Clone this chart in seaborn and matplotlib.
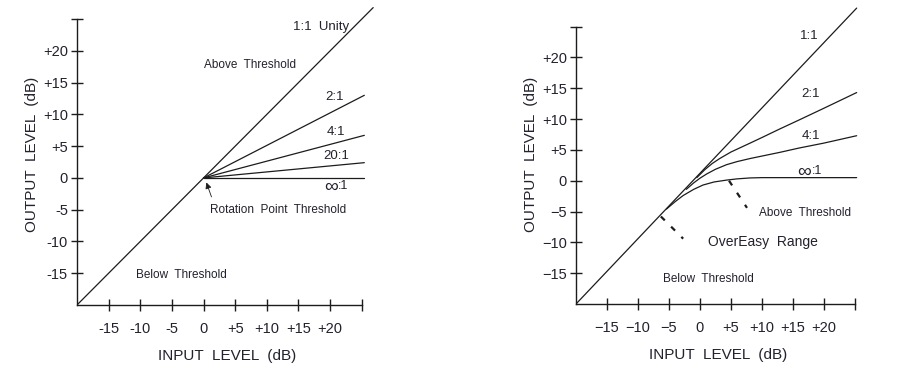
import matplotlib
matplotlib.use('Agg')
import seaborn as sns
from matplotlib import pyplot as plt

# ---- data (dB) ----
tick_pos = [-15, -10, -5, 0, 5, 10, 15, 20, 25]
left_tick_labels = ['-15', '-10', '-5', '0', '+5', '+10', '+15', '+20', '']
right_tick_labels = ['\u221215', '\u221210', '\u22125', '0', '+5', '+10', '+15', '+20', '']

# left: hard knee, all ratios rotate around 0 dB
left_unity_x = [-20, 26.8]
left_unity_y = [-20, 26.8]
left_ratios = ['2:1', '4:1', '20:1', ':1']
left_ratio_x = [0, 25.4]
left_ratio_end = [13.0, 6.7, 2.4, 0.0]

# right: OverEasy soft knee
right_unity_x = [-20, 25.3]
right_unity_y = [-20, 28.0]
oe_2_x = [-0.5, 0.8, 2.0, 3.2, 5.0, 8.1, 10.0, 12.9, 16.0, 20.0, 25.3]
oe_2_y = [0.5, 1.8, 2.8, 3.6, 4.65, 6.1, 7.0, 8.4, 9.85, 11.75, 14.3]
oe_4_x = [-2.2, -1.0, 0.0, 1.1, 2.5, 4.3, 6.0, 8.1, 10.5, 12.9, 16.0, 20.0, 25.3]
oe_4_y = [-1.4, -0.35, 0.4, 1.1, 1.85, 2.6, 3.1, 3.6, 4.1, 4.6, 5.3, 6.1, 7.3]
oe_inf_x = [-5.4, -4.0, -2.7, -1.0, 0.5, 2.3, 4.3, 6.0, 8.1, 10.0, 25.3]
oe_inf_y = [-4.6, -3.4, -2.4, -1.4, -0.7, -0.2, 0.1, 0.3, 0.45, 0.5, 0.5]
knee_low_x = [-6.3, -2.7]
knee_low_y = [-5.8, -9.4]
knee_high_x = [4.7, 7.6]
knee_high_y = [0.0, -4.4]

sns.set_style('white')
plt.rcParams['font.family'] = ['Liberation Sans', 'DejaVu Sans']

ink = '#1c1c1c'
txt = '#22222e'

fig = plt.figure(figsize=(8.98, 3.86), dpi=100)
ax1 = fig.add_axes([0.0857, 0.2098, 0.3348, 0.782])
ax2 = fig.add_axes([0.6414, 0.2124, 0.3174, 0.7746])


def style_axes(ax, labels, xlim, ylim):
    ax.set_xlim(*xlim)
    ax.set_ylim(*ylim)
    sns.despine(ax=ax)
    for side in ['left', 'bottom']:
        ax.spines[side].set_bounds(-20, 25)
        ax.spines[side].set_color(ink)
        ax.spines[side].set_linewidth(1.0)
    ax.set_xticks(tick_pos)
    ax.set_yticks(tick_pos)
    ax.set_xticklabels(labels, fontsize=10.5, color=txt)
    ax.set_yticklabels(labels, fontsize=10.5, color=txt)
    ax.tick_params(bottom=True, left=True, direction='inout', length=9, width=1.0, color=ink)
    ax.tick_params(axis='x', pad=8)
    ax.tick_params(axis='y', pad=2)
    ax.set_xlabel('INPUT  LEVEL  (dB)', fontsize=11, color=txt, labelpad=9)
    ax.set_ylabel('OUTPUT  LEVEL  (dB)', fontsize=11, color=txt, labelpad=3)


def inf_label(ax, x, y):
    ax.text(x, y, '\u221e', fontsize=14, ha='right', va='center', color=txt)
    ax.text(x, y + 0.2, left_ratios[3], fontsize=9, ha='left', va='center', color=txt)


# ---- left panel ----
sns.lineplot(x=left_unity_x, y=left_unity_y, color=ink, lw=0.9, ax=ax1)
for end in left_ratio_end:
    sns.lineplot(x=left_ratio_x, y=[0, end], color=ink, lw=0.9, ax=ax1)
style_axes(ax1, left_tick_labels, (-20, 27.5), (-20, 27.5))

ax1.text(18.5, 23.8, '1:1  Unity', fontsize=9.5, ha='center', va='center', color=txt)
ax1.text(7.4, 17.7, 'Above  Threshold', fontsize=8.5, ha='center', va='center', color=txt)
ax1.text(20.7, 12.8, left_ratios[0], fontsize=9.5, ha='center', va='center', color=txt)
ax1.text(20.9, 7.3, left_ratios[1], fontsize=9.5, ha='center', va='center', color=txt)
ax1.text(21.0, 3.5, left_ratios[2], fontsize=9.5, ha='center', va='center', color=txt)
inf_label(ax1, 21.3, -1.5)
ax1.text(11.8, -5.0, 'Rotation  Point  Threshold', fontsize=8.5, ha='center', va='center', color=txt)
ax1.text(-3.5, -15.2, 'Below  Threshold', fontsize=8.5, ha='center', va='center', color=txt)
ax1.annotate('', xy=(0.3, -0.3), xytext=(1.4, -3.4),
             arrowprops=dict(arrowstyle='-|>', color=ink, lw=0.6, mutation_scale=9))

# ---- right panel ----
sns.lineplot(x=right_unity_x, y=right_unity_y, color=ink, lw=0.9, ax=ax2)
sns.lineplot(x=oe_2_x, y=oe_2_y, color=ink, lw=0.9, sort=False, ax=ax2)
sns.lineplot(x=oe_4_x, y=oe_4_y, color=ink, lw=0.9, sort=False, ax=ax2)
sns.lineplot(x=oe_inf_x, y=oe_inf_y, color=ink, lw=0.9, sort=False, ax=ax2)
ax2.plot(knee_low_x, knee_low_y, color=ink, lw=1.6, ls=(0, (2.5, 4)))
ax2.plot(knee_high_x, knee_high_y, color=ink, lw=1.6, ls=(0, (2.5, 4)))
style_axes(ax2, right_tick_labels, (-20, 26), (-20, 28.5))

ax2.text(17.7, 23.5, '1:1', fontsize=9.5, ha='center', va='center', color=txt)
ax2.text(17.9, 14.0, '2:1', fontsize=9.5, ha='center', va='center', color=txt)
ax2.text(17.9, 7.3, '4:1', fontsize=9.5, ha='center', va='center', color=txt)
inf_label(ax2, 18.0, 1.3)
ax2.text(16.9, -5.2, 'Above  Threshold', fontsize=8.5, ha='center', va='center', color=txt)
ax2.text(10.2, -9.9, 'OverEasy  Range', fontsize=10, ha='center', va='center', color=txt)
ax2.text(1.3, -15.9, 'Below  Threshold', fontsize=8.5, ha='center', va='center', color=txt)

fig.savefig('out.png', dpi=100)
